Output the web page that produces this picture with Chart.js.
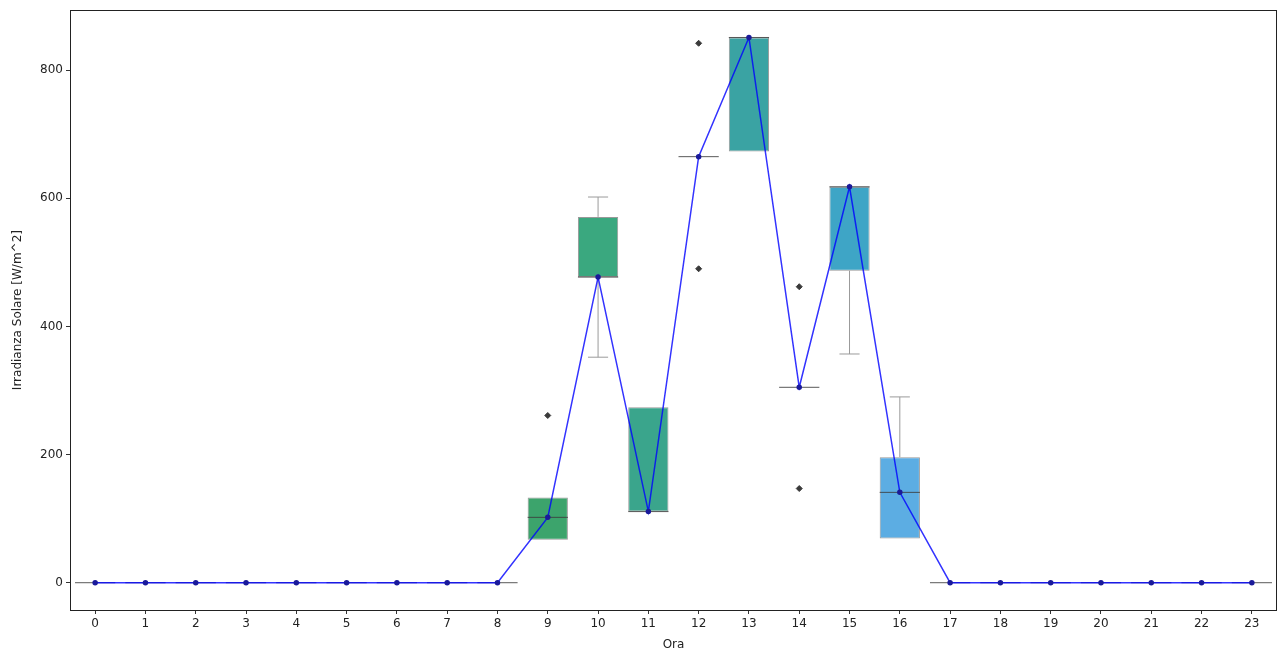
<!DOCTYPE html>
<html>
<head>
<meta charset="utf-8">
<script src="https://cdn.jsdelivr.net/npm/chart.js@4/dist/chart.umd.min.js"></script>
<style>
  html, body { margin: 0; padding: 0; background: #fff; }
  #wrap { width: 1285px; height: 652px; }
</style>
</head>
<body>
<div id="wrap"><canvas id="boxChart" width="1285" height="652"></canvas></div>
<script>
// hours of the day
var hours = ["0","1","2","3","4","5","6","7","8","9","10","11","12","13","14","15","16","17","18","19","20","21","22","23"];

// box statistics per hour
var q1 =        [0,0,0,0,0,0,0,0,0, 67,477,111,665,673,305,487, 69,0,0,0,0,0,0,0];
var q3 =        [0,0,0,0,0,0,0,0,0,133,571,274,665,851,305,618,196,0,0,0,0,0,0,0];
var medians =   [0,0,0,0,0,0,0,0,0,102,477,111,665,851,305,618,141,0,0,0,0,0,0,0];
var whiskLow =  [0,0,0,0,0,0,0,0,0, 67,352,111,665,673,305,357, 69,0,0,0,0,0,0,0];
var whiskHigh = [0,0,0,0,0,0,0,0,0,133,602,274,665,851,305,618,290,0,0,0,0,0,0,0];

// outliers (hour, value)
var outlierHours =  ["9","12","12","14","14"];
var outlierValues = [261, 842, 490, 462, 147];

var yTicks = [0, 200, 400, 600, 800];

var boxColors = [
  "#e0605a","#e07a4f","#e0954a","#dcb046","#cfc845","#b3d245","#93cf48","#72c74e","#55bb58",
  "#3ca46c","#3aa87f","#3aa58c","#3aa598","#3aa3a3","#3ca5b4","#3ea5c6","#5cade3",
  "#5a8fe0","#6a78e0","#7e66e0","#9a5ee0","#b95ad8","#d258c0","#e05a92"
];

var boxStats = {
  id: "boxStats",
  afterDatasetDraw: function(chart, args) {
    if (args.index !== 0) return;
    var ctx = chart.ctx;
    var xs = chart.scales.x, ys = chart.scales.y;
    var meta = chart.getDatasetMeta(0);
    ctx.save();
    for (var i = 0; i < hours.length; i++) {
      var x = xs.getPixelForValue(i);
      var w = meta.data[i] ? meta.data[i].width : 40;
      var cap = w / 2;
      ctx.lineWidth = 1;
      ctx.strokeStyle = "#9a9a9a";
      ctx.beginPath();
      if (whiskLow[i] < q1[i]) {
        ctx.moveTo(x, ys.getPixelForValue(q1[i]));
        ctx.lineTo(x, ys.getPixelForValue(whiskLow[i]));
        ctx.moveTo(x - cap / 2, ys.getPixelForValue(whiskLow[i]));
        ctx.lineTo(x + cap / 2, ys.getPixelForValue(whiskLow[i]));
      }
      if (whiskHigh[i] > q3[i]) {
        ctx.moveTo(x, ys.getPixelForValue(q3[i]));
        ctx.lineTo(x, ys.getPixelForValue(whiskHigh[i]));
        ctx.moveTo(x - cap / 2, ys.getPixelForValue(whiskHigh[i]));
        ctx.lineTo(x + cap / 2, ys.getPixelForValue(whiskHigh[i]));
      }
      ctx.stroke();
      // median line
      ctx.strokeStyle = "rgba(60,60,60,0.85)";
      ctx.beginPath();
      var ym = ys.getPixelForValue(medians[i]);
      ctx.moveTo(x - w / 2, ym);
      ctx.lineTo(x + w / 2, ym);
      ctx.stroke();
    }
    ctx.restore();
  },
  afterDraw: function(chart) {
    var a = chart.chartArea, ctx = chart.ctx;
    ctx.save();
    ctx.strokeStyle = "#222";
    ctx.lineWidth = 1;
    ctx.strokeRect(Math.round(a.left) + 0.5, Math.round(a.top) + 0.5,
      Math.round(a.right - a.left) - 1, Math.round(a.bottom - a.top));
    ctx.restore();
  }
};

var ctx = document.getElementById("boxChart").getContext("2d");
window.myBoxChart = new Chart(ctx, {
  type: "bar",
  data: {
    labels: hours,
    datasets: [
      {
        type: "bar",
        label: "box",
        data: hours.map(function(h, i) { return [q1[i], q3[i]]; }),
        backgroundColor: boxColors,
        borderColor: "rgba(70,70,70,0.55)",
        borderWidth: 1,
        borderSkipped: false,
        barPercentage: 0.8,
        categoryPercentage: 1.0,
        order: 3
      },
      {
        type: "line",
        label: "outliers",
        data: outlierHours.map(function(h, i) { return { x: h, y: outlierValues[i] }; }),
        showLine: false,
        pointStyle: "rectRot",
        pointRadius: 3,
        pointBackgroundColor: "#3a3a3a",
        pointBorderColor: "#3a3a3a",
        order: 2
      },
      {
        type: "line",
        label: "mediana",
        data: medians,
        borderColor: "rgba(0,0,255,0.8)",
        borderWidth: 1.5,
        pointRadius: 2,
        pointBackgroundColor: "#1a1a9a",
        pointBorderColor: "#1a1a9a",
        tension: 0,
        order: 1
      }
    ]
  },
  options: {
    responsive: false,
    animation: false,
    layout: { padding: { left: 0, right: 8, top: 10, bottom: 0 } },
    plugins: {
      legend: { display: false },
      tooltip: { enabled: false }
    },
    scales: {
      x: {
        type: "category",
        offset: true,
        grid: { display: true, offset: false, drawOnChartArea: false, drawTicks: true, tickLength: 4, color: "#333" },
        border: { display: false },
        ticks: { color: "#222", font: { family: "DejaVu Sans", size: 12 }, padding: 3, maxRotation: 0, autoSkip: false },
        title: { display: true, text: "Ora", color: "#222", font: { family: "DejaVu Sans", size: 12 }, padding: { top: 0, bottom: 0 } },
        afterFit: function(scale) { scale.height = 42; }
      },
      y: {
        min: -42.6,
        max: 893.6,
        afterBuildTicks: function(scale) { scale.ticks = yTicks.map(function(v) { return { value: v }; }); },
        grid: { display: true, drawOnChartArea: false, drawTicks: true, tickLength: 4, color: "#333" },
        border: { display: false },
        ticks: { color: "#222", font: { family: "DejaVu Sans", size: 12 }, padding: 3 },
        title: { display: true, text: "Irradianza Solare [W/m^2]", color: "#222", font: { family: "DejaVu Sans", size: 12 }, padding: { top: 11, bottom: 0 } },
        afterFit: function(scale) { scale.width = 70; }
      }
    }
  },
  plugins: [boxStats]
});
</script>
</body>
</html>
